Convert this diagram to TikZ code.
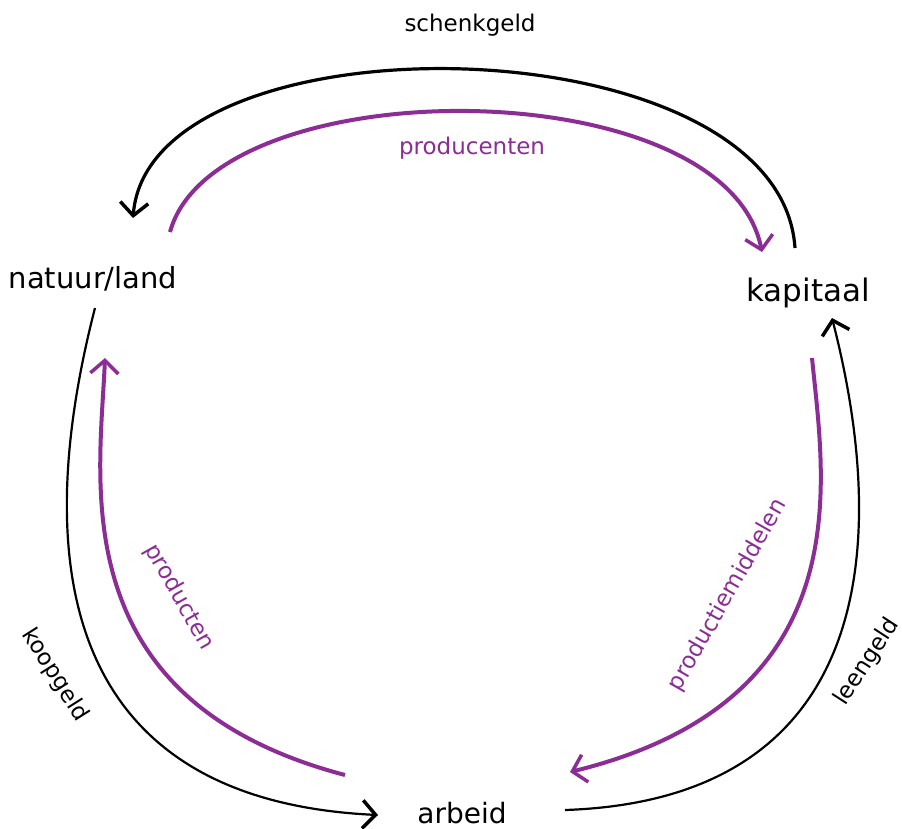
\documentclass[tikz,border=0pt]{standalone}
\usepackage{fontspec}
\setmainfont{DejaVu Sans}
\usetikzlibrary{arrows.meta}
\definecolor{prp}{RGB}{140,45,150}
\begin{document}
\begin{tikzpicture}[x=1pt,y=-1pt,
  big/.style={font=\fontsize{29}{34}\selectfont, inner sep=0pt},
  lbl/.style={font=\fontsize{23}{28}\selectfont, inner sep=0pt},
  plbl/.style={lbl, text=prp},
  tip/.style={-{Straight Barb[length=13pt,width=28pt,line width=3.5pt]}},
  blk/.style={tip, line width=2.2pt, black},
  blkthick/.style={tip, line width=3.2pt, black},
  pur/.style={tip, line width=4pt, prp}]
\useasboundingbox (0,0) rectangle (902,828);
\fill[white] (0,0) rectangle (902,828);
% main nodes
\node[big] (natuur) at (93,279) {natuur/land};
\node[big, font=\fontsize{31}{36}\selectfont] (kapitaal) at (808,293) {kapitaal};
\node[big, font=\fontsize{28}{33}\selectfont] (arbeid) at (462,813) {arbeid};
% labels
\node[lbl] (schenk) at (470,25) {schenkgeld};
\node[plbl] (prodcn) at (472,148) {producenten};
\node[plbl, rotate=-60.5] (prodt) at (179,597) {producten};
\node[plbl, rotate=60.3] (prodm) at (728,595) {productiemiddelen};
\node[lbl, rotate=-57.7] (koop) at (55,675) {koopgeld};
\node[lbl, rotate=57] (leen) at (867,662) {leengeld};
% curve end points
\coordinate (tbS) at (795,248);
\coordinate (tbE) at (133,218);
\coordinate (tpS) at (170,232);
\coordinate (tpE) at (762,252);
\coordinate (lbS) at (95,308);
\coordinate (lbE) at (378,815);
\coordinate (lpS) at (345,775);
\coordinate (lpE) at (105,358);
\coordinate (rpS) at (812,358);
\coordinate (rpE) at (570,772);
\coordinate (rbS) at (565,810);
\coordinate (rbE) at (832,318);
% connectors
\draw[blkthick] (tbS) .. controls (780,20) and (150,10) .. (tbE);
\draw[pur] (tpS) .. controls (215,68) and (725,68) .. (tpE);
\draw[blk] (lbS) .. controls (30,560) and (60,800) .. (lbE);
\draw[pur] (lpS) .. controls (60,700) and (100,480) .. (lpE);
\draw[pur] (rpS) .. controls (824,480) and (864,700) .. (rpE);
\draw[blk] (rbS) .. controls (864,800) and (894,560) .. (rbE);
\end{tikzpicture}
\end{document}
